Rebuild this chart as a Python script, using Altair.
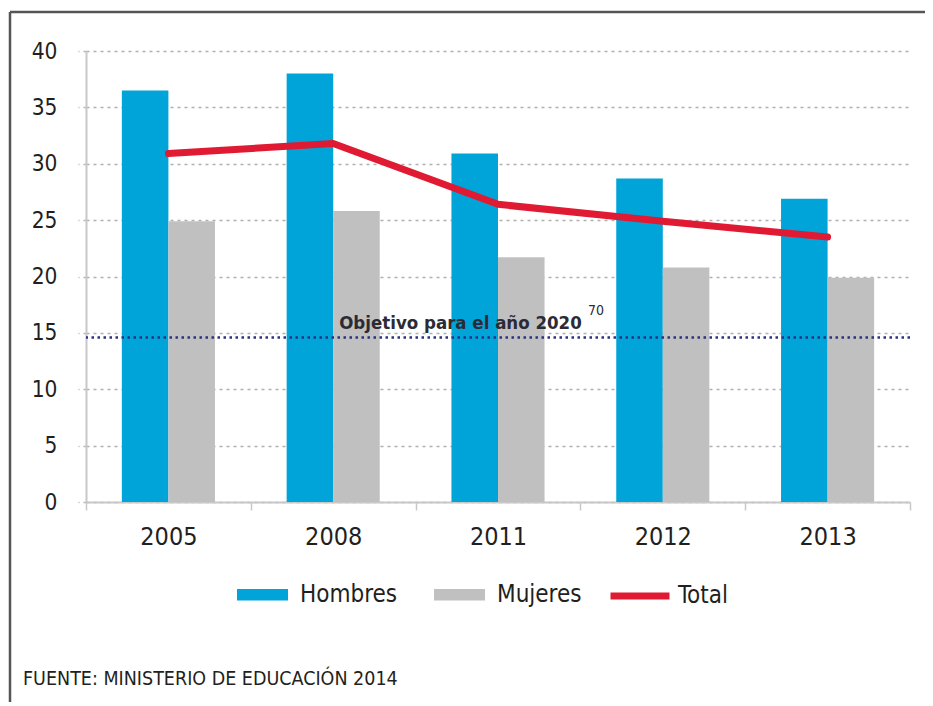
import altair as alt
import pandas as pd

years = ["2005", "2008", "2011", "2012", "2013"]
hombres = [36.5, 38.0, 30.9, 28.7, 26.9]
mujeres = [24.9, 25.8, 21.7, 20.8, 19.9]
total = [30.9, 31.8, 26.4, 24.9, 23.5]
objetivo_valor = 14.6
objetivo_texto = "Objetivo para el año 2020"
objetivo_nota = "70"
fuente = "FUENTE: MINISTERIO DE EDUCACIÓN 2014"
series_barras = ["Hombres", "Mujeres"]
serie_linea = "Total"

BLUE = "#00a4d9"
GRAY = "#c0c0c0"
RED = "#e01a32"
NAVY = "#2e3080"
TXT = "#231f20"
FONT = "DejaVu Sans Condensed, DejaVu Sans, sans-serif"

W, H = 824, 451

bars_df = pd.DataFrame(
    [{"anio": y, "serie": "Hombres", "valor": v} for y, v in zip(years, hombres)]
    + [{"anio": y, "serie": "Mujeres", "valor": v} for y, v in zip(years, mujeres)]
)
line_df = pd.DataFrame({"anio": years, "valor": total, "serie": [serie_linea] * len(years)})

xscale = alt.Scale(domain=years, paddingInner=0, paddingOuter=0)
yscale = alt.Scale(domain=[0, 40], nice=False)

xaxis = alt.Axis(
    title=None, labelAngle=0, labelFontSize=25, labelFont=FONT, labelColor=TXT,
    tickBand="extent", tickSize=8, tickColor="#c8c8c8", tickWidth=1.5,
    domainColor="#c8c8c8", domainWidth=2, labelPadding=14, grid=False,
)
yaxis = alt.Axis(
    title=None, values=list(range(0, 41, 5)), labelFontSize=22.5, labelFont=FONT,
    labelColor=TXT, tickSize=8, tickColor="#b5b5b5", tickWidth=1.5, tickDash=[3, 4],
    domainColor="#c8c8c8", domainWidth=2, labelPadding=21,
    grid=True, gridColor="#b0b0b0", gridDash=[3, 4], gridWidth=1.5,
)

bars = alt.Chart(bars_df).mark_bar().encode(
    x=alt.X("anio:N", scale=xscale, axis=xaxis, sort=years),
    xOffset=alt.XOffset("serie:N", scale=alt.Scale(domain=series_barras, paddingInner=0, paddingOuter=0.77)),
    y=alt.Y("valor:Q", scale=yscale, axis=yaxis),
    color=alt.Color(
        "serie:N",
        scale=alt.Scale(domain=series_barras, range=[BLUE, GRAY]),
        legend=alt.Legend(
            title=None, orient="none", legendX=151, legendY=518, direction="horizontal",
            symbolType="M-1,-0.23H1V0.23H-1Z", symbolSize=2601, symbolStrokeWidth=0,
            labelFontSize=24, labelFont=FONT, labelColor=TXT, labelOffset=12,
            columnPadding=36,
        ),
    ),
)

obj_df = pd.DataFrame({"valor": [objetivo_valor]})
obj_rule = alt.Chart(obj_df).mark_rule(color=NAVY, strokeWidth=2.5, strokeDash=[2.5, 3.5]).encode(
    y=alt.Y("valor:Q", scale=yscale)
)

obj_text_df = pd.DataFrame({"anio": ["2008"], "valor": [objetivo_valor], "t": [objetivo_texto]})
obj_text = alt.Chart(obj_text_df).mark_text(
    align="left", baseline="alphabetic", dx=6, dy=-8, fontSize=18.5, fontWeight="bold",
    font=FONT, color="#2b2b36",
).encode(x=alt.X("anio:N", scale=xscale), y=alt.Y("valor:Q", scale=yscale), text="t:N")

nota_df = pd.DataFrame({"anio": ["2011"], "valor": [objetivo_valor], "t": [objetivo_nota]})
nota = alt.Chart(nota_df).mark_text(
    align="left", baseline="alphabetic", dx=90, dy=-22, fontSize=14,
    font=FONT, color="#2b2b36",
).encode(x=alt.X("anio:N", scale=xscale), y=alt.Y("valor:Q", scale=yscale), text="t:N")

line = alt.Chart(line_df).mark_line(strokeWidth=7, strokeCap="round", strokeJoin="round").encode(
    x=alt.X("anio:N", scale=xscale, sort=years),
    y=alt.Y("valor:Q", scale=yscale),
    stroke=alt.Stroke(
        "serie:N",
        scale=alt.Scale(domain=[serie_linea], range=[RED]),
        legend=alt.Legend(
            title=None, orient="none", legendX=521, legendY=512, direction="horizontal",
            symbolType="M-1,0H1", symbolSize=3481, symbolStrokeWidth=7,
            labelFontSize=24, labelFont=FONT, labelColor=TXT, labelOffset=5,
        ),
    ),
)

fuente_df = pd.DataFrame({"t": [fuente]})
fuente_txt = alt.Chart(fuente_df).mark_text(
    align="left", baseline="alphabetic", fontSize=19.5, font=FONT, color=TXT
).encode(x=alt.value(-63), y=alt.value(634), text="t:N")

frame_df = pd.DataFrame({"k": [0]})
frame_top = alt.Chart(frame_df).mark_rule(color="#555555", strokeWidth=2.5).encode(
    x=alt.value(-76), x2=alt.value(870), y=alt.value(-39)
)
frame_left = alt.Chart(frame_df).mark_rule(color="#555555", strokeWidth=2.5).encode(
    x=alt.value(-76), y=alt.value(-39), y2=alt.value(720)
)

chart = alt.layer(
    bars, obj_rule, obj_text, nota, line, fuente_txt, frame_top, frame_left
).resolve_scale(color="independent", stroke="independent").properties(
    width=W, height=H,
    autosize=alt.AutoSizeParams(type="none"),
    padding={"left": 78, "top": 43, "right": 15, "bottom": 200},
    background="white",
).configure_view(stroke=None)

chart.save("out.html", embed_options={"renderer": "svg", "actions": False})
